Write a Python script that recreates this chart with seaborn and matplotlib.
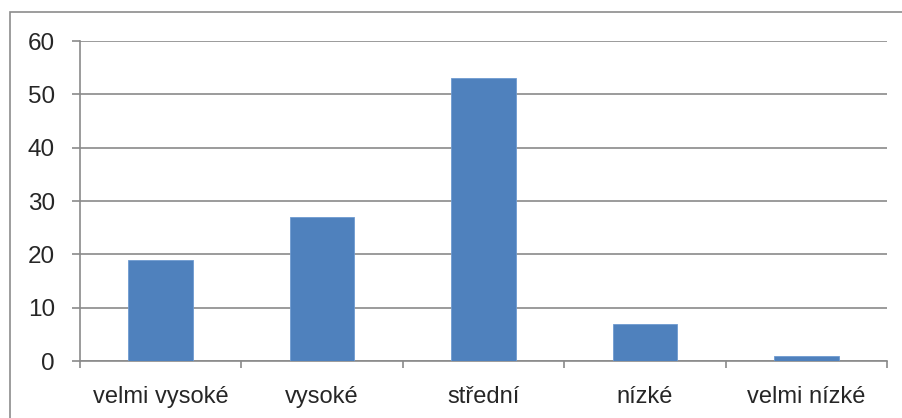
import matplotlib
matplotlib.use("Agg")
import matplotlib.pyplot as plt
import seaborn as sns
import pandas as pd
from matplotlib.patches import Rectangle

categories = ["velmi vysoké", "vysoké", "střední", "nízké", "velmi nízké"]
values = [19, 27, 53, 7, 1]

df = pd.DataFrame({"kategorie": categories, "pocet": values})

sns.set_style("white")
plt.rcParams["font.family"] = ["Liberation Sans", "DejaVu Sans"]

fig = plt.figure(figsize=(9.03, 4.18), dpi=100)
W, H = 903, 418

# outer chart border (Excel style)
fig.patches.append(Rectangle((10.5 / W, -0.1), 1.2, (418 - 11.5) / H + 0.1,
                             transform=fig.transFigure, fill=False,
                             edgecolor="#8c8c8c", linewidth=1.2))

ax = fig.add_axes([80 / W, (H - 361) / H, (887 - 80) / W, (361 - 41) / H])

sns.barplot(data=df, x="kategorie", y="pocet", color="#4F81BD", width=0.4,
            saturation=1, edgecolor="#6f9ad0", linewidth=0.6, ax=ax, zorder=3)

ax.set_ylim(0, 60)
ax.set_xlim(-0.5, 4.5)
ax.set_yticks(range(0, 61, 10))
ax.yaxis.grid(True, color="#8a8a8a", linewidth=1.2)
ax.set_axisbelow(True)
ax.set_xlabel("")
ax.set_ylabel("")

for side in ["top", "right"]:
    ax.spines[side].set_visible(False)
for side in ["left", "bottom"]:
    ax.spines[side].set_color("#8a8a8a")
    ax.spines[side].set_linewidth(1.2)

ax.set_xticks([i - 0.5 for i in range(6)], minor=True)
ax.tick_params(axis="x", which="major", length=0, pad=18, labelsize=17)
ax.tick_params(axis="x", which="minor", length=5, width=1.2, color="#8a8a8a",
               direction="out", bottom=True)
ax.tick_params(axis="y", length=6, width=1.2, color="#8a8a8a", direction="out",
               left=True, pad=12, labelsize=17.5)

fig.savefig("out.png", dpi=100)
